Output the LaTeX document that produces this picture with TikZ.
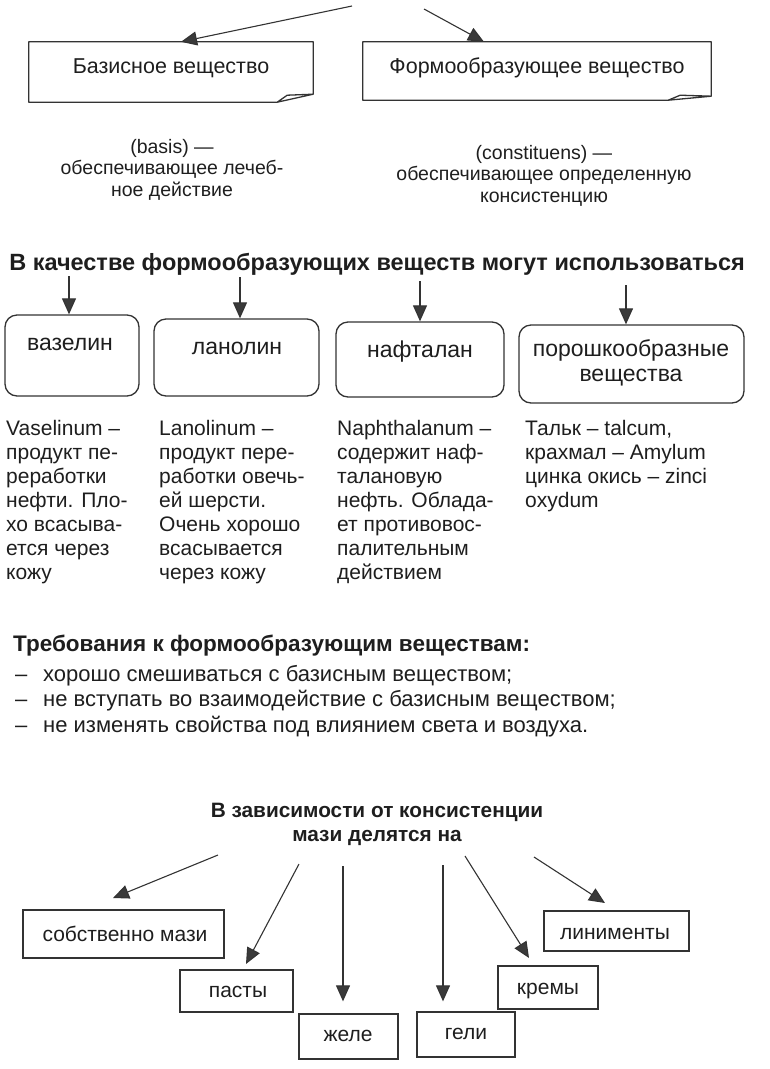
\documentclass[tikz,border=0pt]{standalone}
\usepackage{fontspec}
\setmainfont{Liberation Sans}
\usetikzlibrary{arrows.meta,calc}
\definecolor{ink}{HTML}{1E1E1E}
\definecolor{lin}{HTML}{333333}
\definecolor{tip}{HTML}{3A3A3A}
\begin{document}
\begin{tikzpicture}[x=1pt,y=-1pt,
  arr/.style={draw=lin,line width=1.1pt,-{Triangle[length=16pt,width=14pt,fill=tip]}},
  rbox/.style={draw=lin,line width=1.3pt,rounded corners=12pt,inner sep=0pt},
  sbox/.style={draw=lin,line width=1.3pt,inner sep=0pt},
  ghost/.style={draw=none,inner sep=0pt},
  foldline/.style={draw=lin,line width=1.3pt,line join=round},
  boxtxt/.style={text=ink,inner sep=0pt,font=\fontsize{21.5}{24}\selectfont},
  lbltxt/.style={text=ink,inner sep=0pt,font=\fontsize{23}{25}\selectfont,align=center},
  subtxt/.style={text=ink,inner sep=0pt,font=\fontsize{19.5}{21.5}\selectfont,align=center},
  body/.style={text=ink,inner sep=0pt,font=\fontsize{21}{24}\selectfont,align=left,anchor=base west},
  head/.style={text=ink,inner sep=0pt,font=\bfseries\fontsize{23.5}{24}\selectfont},
  small/.style={text=ink,inner sep=0pt,font=\fontsize{22}{24}\selectfont},
  lab/.style={text=ink,inner sep=0pt,font=\fontsize{21}{24}\selectfont},
]
\useasboundingbox (0,0) rectangle (769,1069);

% ---------- top part ----------
\node[ghost,minimum width=284pt,minimum height=60pt] (B1) at (171,72) {};
\node[ghost,minimum width=348pt,minimum height=58pt] (B2) at (537,71) {};
\draw[foldline] ([xshift=-36pt]B1.south east) -- (B1.south west) -- (B1.north west)
  -- (B1.north east) -- ([yshift=8pt]B1.south east) -- ([xshift=-36pt]B1.south east)
  -- ([xshift=-26pt,yshift=7pt]B1.south east) -- ([yshift=8pt]B1.south east);
\draw[foldline] ([xshift=-43pt]B2.south east) -- (B2.south west) -- (B2.north west)
  -- (B2.north east) -- ([yshift=4pt]B2.south east) -- ([xshift=-43pt]B2.south east)
  -- ([xshift=-31pt,yshift=5pt]B2.south east) -- ([yshift=4pt]B2.south east);
\node[boxtxt,anchor=base] (t1) at (171,73) {Базисное вещество};
\node[boxtxt,anchor=base] (t2) at (537,73) {Формообразующее вещество};

\coordinate (a1) at (352,6);
\coordinate (a2) at (424,9);
\draw[arr] (a1) -- (B1.north -| 181,0);
\draw[arr] (a2) -- (B2.north -| 484,0);

\node[subtxt,anchor=base] (d1) at (172,196) {(basis) —\\обеспечивающее лечеб-\\ное действие};
\node[subtxt,anchor=base] (d2) at (544,202) {(constituens) —\\обеспечивающее определенную\\консистенцию};

% ---------- middle part ----------
\node[head,anchor=base] (h1) at (377,270) {В качестве формообразующих веществ могут использоваться};

\node[rbox,minimum width=134pt,minimum height=81pt] (r1) at (72,355.5) {};
\node[rbox,minimum width=165pt,minimum height=77pt] (r2) at (236.5,357.5) {};
\node[rbox,minimum width=168pt,minimum height=75pt] (r3) at (420,359.5) {};
\node[rbox,minimum width=225pt,minimum height=78pt] (r4) at (631.5,364) {};

\node[lbltxt,anchor=base] (l1) at (70,350) {вазелин};
\node[lbltxt,anchor=base] (l2) at (237,354) {ланолин};
\node[lbltxt,anchor=base] (l3) at (420,357) {нафталан};
\node[lbltxt,anchor=base] (l4) at (631,381) {порошкообразные\\вещества};

\coordinate (v1) at (69,276);
\coordinate (v2) at (240,277);
\coordinate (v3) at (420,281);
\coordinate (v4) at (626,285);
\draw[arr] (v1) -- (v1 |- r1.north);
\draw[arr] (v2) -- (v2 |- r2.north);
\draw[arr] (v3) -- (v3 |- r3.north);
\draw[arr] (v4) -- (v4 |- r4.north);

\node[body] (p1) at (6,579) {Vaselinum –\\продукт пе-\\реработки\\нефти. Пло-\\хо всасыва-\\ется через\\кожу};
\node[body] (p2) at (159,579) {Lanolinum –\\продукт пере-\\работки овечь-\\ей шерсти.\\Очень хорошо\\всасывается\\через кожу};
\node[body] (p3) at (337,579) {Naphthalanum –\\содержит наф-\\талановую\\нефть. Облада-\\ет противовос-\\палительным\\действием};
\node[body] (p4) at (525,507) {Тальк – talcum,\\крахмал – Amylum\\цинка окись – zinci\\oxydum};

% ---------- requirements ----------
\node[head,anchor=base west,font=\bfseries\fontsize{22.5}{24}\selectfont] (q0) at (13,651) {Требования к формообразующим веществам:};
\node[small,anchor=base west] (m1) at (15,681) {–};
\node[small,anchor=base west] (m2) at (15,706) {–};
\node[small,anchor=base west] (m3) at (15,732) {–};
\node[small,anchor=base west] (q1) at (43,681) {хорошо смешиваться с базисным веществом;};
\node[small,anchor=base west] (q2) at (43,706) {не вступать во взаимодействие с базисным веществом;};
\node[small,anchor=base west] (q3) at (43,732) {не изменять свойства под влиянием света и воздуха.};

% ---------- bottom part ----------
\node[head,anchor=base,align=center,font=\bfseries\fontsize{20.8}{24}\selectfont] (h2) at (377,841) {В зависимости от консистенции\\мази делятся на};

\node[sbox,minimum width=201pt,minimum height=48pt] (b1) at (123.5,934) {};
\node[sbox,minimum width=113pt,minimum height=42pt] (b2) at (236.5,991) {};
\node[sbox,minimum width=99pt,minimum height=45pt] (b3) at (348.5,1036.5) {};
\node[sbox,minimum width=98pt,minimum height=45pt] (b4) at (466,1034.5) {};
\node[sbox,minimum width=100pt,minimum height=43pt] (b5) at (548,987.5) {};
\node[sbox,minimum width=145pt,minimum height=40pt] (b6) at (616.5,931) {};

\node[lab,anchor=base] (k1) at (125,941) {собственно мази};
\node[lab,anchor=base] (k2) at (238,997) {пасты};
\node[lab,anchor=base] (k3) at (348,1041) {желе};
\node[lab,anchor=base] (k4) at (466,1039) {гели};
\node[lab,anchor=base] (k5) at (548,994) {кремы};
\node[lab,anchor=base] (k6) at (615,939) {линименты};

\coordinate (s1) at (218,855);
\coordinate (s2) at (299,864);
\coordinate (s3) at (343,866);
\coordinate (s4) at (443,865);
\coordinate (s5) at (465,856);
\coordinate (s6) at (534,857);
\coordinate (e1) at (113,898);
\coordinate (e2) at (246,964);
\coordinate (e5) at (529,958);
\coordinate (e6) at (605,903);
\draw[arr] (s1) -- (e1);
\draw[arr] (s2) -- (e2);
\draw[arr,shorten >=12pt] (s3) -- (s3 |- b3.north);
\draw[arr,shorten >=10pt] (s4) -- (s4 |- b4.north);
\draw[arr] (s5) -- (e5);
\draw[arr] (s6) -- (e6);
\end{tikzpicture}
\end{document}
